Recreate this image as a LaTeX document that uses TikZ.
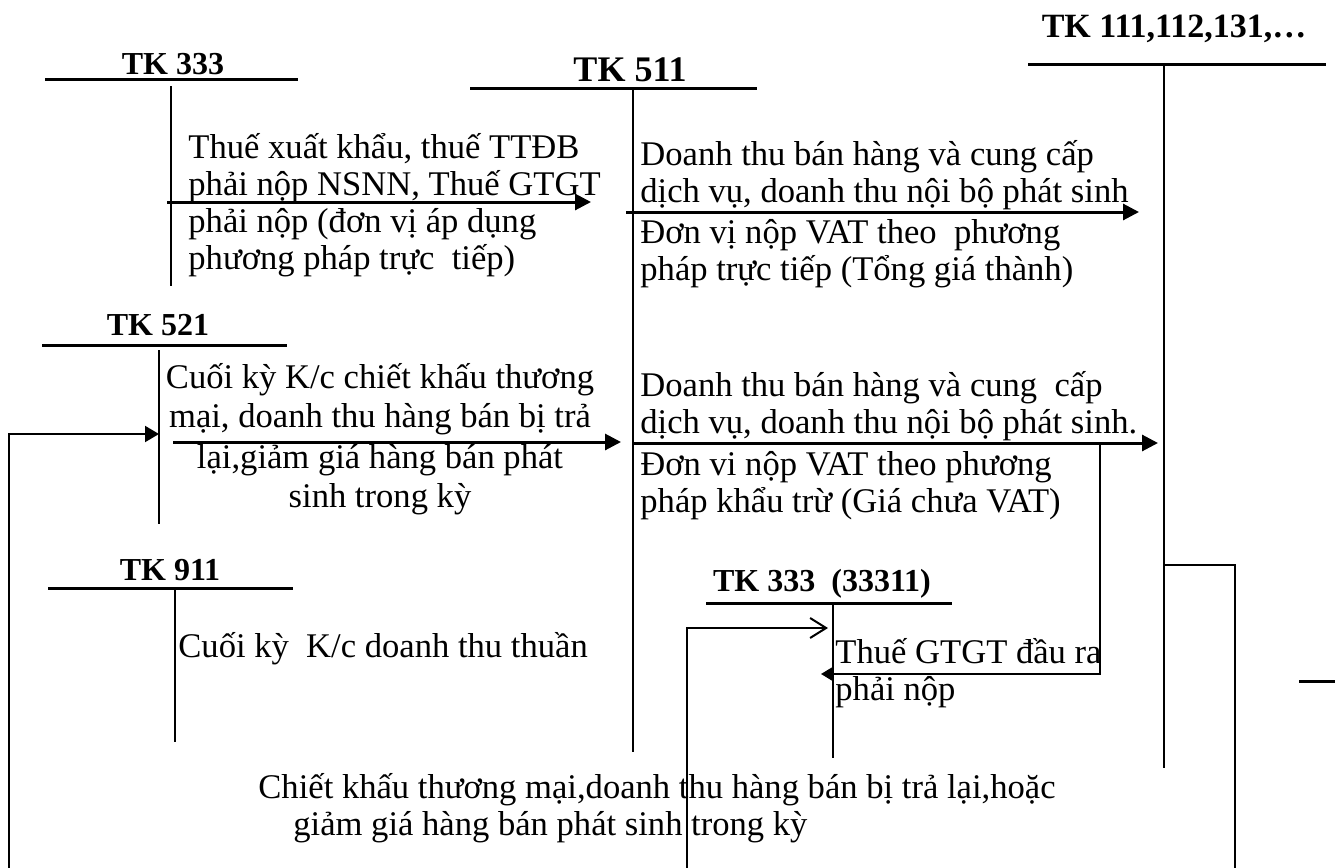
\documentclass[tikz,border=0pt]{standalone}
\usepackage{fontspec}
\setmainfont{Liberation Serif}
\usetikzlibrary{arrows.meta}

\begin{document}
\begin{tikzpicture}[x=0.5pt,y=-0.5pt,
  every node/.style={font=\fontsize{17.3}{18.5}\selectfont,inner sep=0pt},
  tk/.style={font=\bfseries\fontsize{16}{18}\selectfont,anchor=base},
  txt/.style={align=left,anchor=base west},
  bar/.style={line width=1.5pt},
  leg/.style={line width=1pt},
  post/.style={line width=1.5pt,-{Triangle[length=8pt,width=8pt]}},
  link/.style={line width=1pt}]
\useasboundingbox (0,0) rectangle (1335,868);

% T accounts
\node[tk,font=\bfseries\fontsize{17}{19}\selectfont] (t111) at (1174,37) {TK 111,112,131,…};
\draw[bar] (1028,64) -- (1326,64);
\draw[leg] (1164,64) -- (1164,768);

\node[tk] (t333) at (173,74) {TK 333};
\draw[bar] (45,79) -- (298,79);
\draw[leg] (171,86) -- (171,286);

\node[tk,font=\bfseries\fontsize{18}{20}\selectfont] (t511) at (630,81) {TK 511};
\draw[bar] (470,88) -- (757,88);
\draw[leg] (633,88) -- (633,752);

\node[tk] (t521) at (158,335) {TK 521};
\draw[bar] (42,345) -- (287,345);
\draw[leg] (159,350) -- (159,524);

\node[tk] (t911) at (170,580) {TK 911};
\draw[bar] (48,588) -- (293,588);
\draw[leg] (175,588) -- (175,742);

\node[tk] (t3331) at (822,591) {TK 333\ \ (33311)};
\draw[bar] (706,603) -- (952,603);
\draw[leg] (833,603) -- (833,758);

% postings
\coordinate (p1a) at (167,202);
\coordinate (p1b) at (591,202);
\draw[post] (p1a) -- (p1b);
\node[txt] (n333) at (188,269) {Thuế xuất khẩu, thuế TTĐB\\phải nộp NSNN, Thuế GTGT\\phải nộp (đơn vị áp dụng\\phương pháp trực\ \ tiếp)};

\coordinate (p2a) at (626,212);
\coordinate (p2b) at (1139,212);
\draw[post] (p2a) -- (p2b);
\node[txt] (n511a) at (640,280) {Doanh thu bán hàng và cung cấp\\dịch vụ, doanh thu nội bộ phát sinh\\[2pt]Đơn vị nộp VAT theo\ \ phương\\pháp trực tiếp (Tổng giá thành)};

\coordinate (p3a) at (173,442);
\coordinate (p3b) at (621,442);
\draw[post] (p3a) -- (p3b);
\node[align=center,anchor=base] (n521) at (380,507) {Cuối kỳ K/c chiết khấu thương\\[1pt]mại, doanh thu hàng bán bị trả\\[2pt]lại,giảm giá hàng bán phát\\[1pt]sinh trong kỳ};

\coordinate (p4a) at (633,443);
\coordinate (p4b) at (1158,443);
\draw[post] (p4a) -- (p4b);
\node[txt] (n511b) at (640,512) {Doanh thu bán hàng và cung\ \ cấp\\dịch vụ, doanh thu nội bộ phát sinh.\\[2.5pt]Đơn vi nộp VAT theo phương\\pháp khẩu trừ (Giá chưa VAT)};

\node[txt] (n911) at (178,657) {Cuối kỳ\ \ K/c doanh thu thuần};

% VAT branch
\coordinate (v1) at (1100,443);
\coordinate (v2) at (1100,674);
\coordinate (v3) at (821,674);
\draw[link,-{Triangle[length=6pt,width=7pt]}] (v1) -- (v2) -- (v3);
\node[txt] (nvat) at (835,700) {Thuế GTGT đầu ra\\phải nộp};

% discounts
\coordinate (d1) at (9,868);
\coordinate (d2) at (9,434);
\coordinate (d3) at (159,434);
\draw[link,-{Triangle[length=7pt,width=8pt]}] (d1) -- (d2) -- (d3);

\coordinate (r1) at (687,868);
\coordinate (r2) at (687,628);
\coordinate (r3) at (828,628);
\draw[link,-{Straight Barb[length=8pt,width=10pt]}] (r1) -- (r2) -- (r3);

\coordinate (s1) at (1164,565);
\coordinate (s2) at (1235,565);
\coordinate (s3) at (1235,868);
\draw[link] (s1) -- (s2) -- (s3);
\coordinate (s4) at (1299,681);
\coordinate (s5) at (1335,681);
\draw[bar] (s4) -- (s5);

\node[txt] (nbot) at (258,835) {Chiết khấu thương mại,doanh thu hàng bán bị trả lại,hoặc\\\hspace*{17.5pt}giảm giá hàng bán phát sinh trong kỳ};
\end{tikzpicture}
\end{document}
